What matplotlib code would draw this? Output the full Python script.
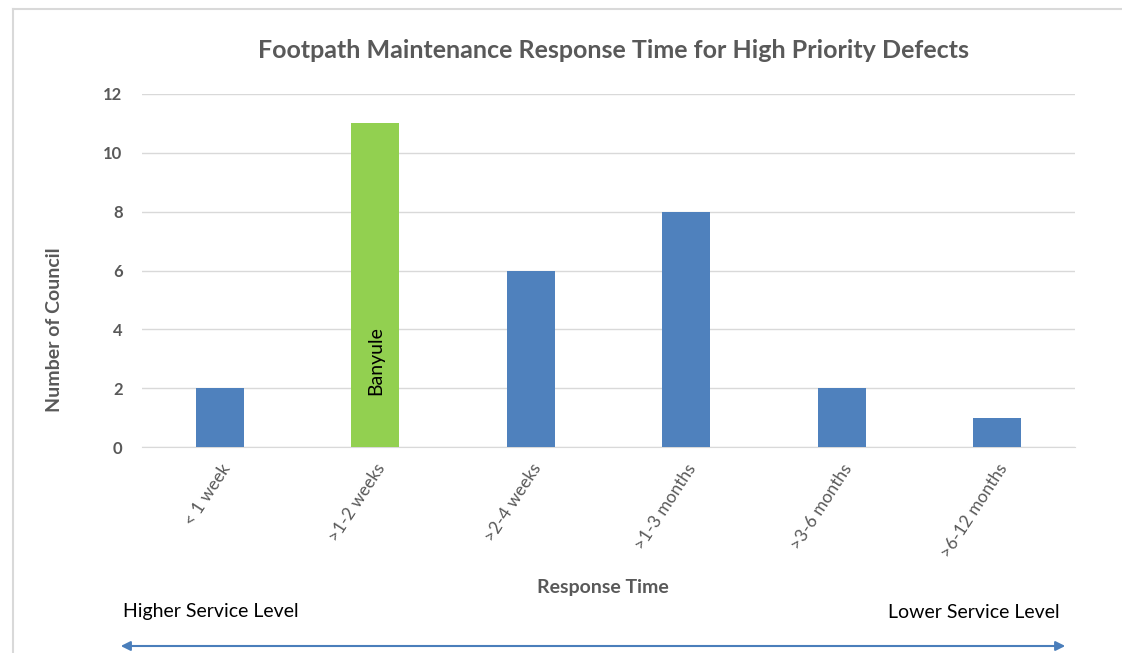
import matplotlib
matplotlib.use("Agg")
import matplotlib.pyplot as plt
from matplotlib.patches import FancyArrowPatch
from matplotlib.lines import Line2D

categories = ["< 1 week", ">1-2 weeks", ">2-4 weeks", ">1-3 months", ">3-6 months", ">6-12 months"]
values = [2, 11, 6, 8, 2, 1]
highlight = ">1-2 weeks"
highlight_label = "Banyule"
yticks = [0, 2, 4, 6, 8, 10, 12]

plt.rcParams['font.family'] = ['Lato', 'DejaVu Sans']
W, H = 1122, 653
fig = plt.figure(figsize=(W/100, H/100), dpi=100)

ax = fig.add_axes([142/W, 1-447/H, (1075-142)/W, (447-94)/H])
x = list(range(len(categories)))
colors = ["#92d050" if c == highlight else "#4f81bd" for c in categories]
bars = ax.bar(x, values, width=0.31, color=colors, zorder=3)
ax.set_xlim(-0.5, len(categories)-0.5)
ax.set_ylim(0, 12)
ax.set_yticks(yticks)
ax.set_yticklabels([str(t) for t in yticks], fontsize=12, fontweight='bold', color='#595959')
ax.grid(axis='y', color='#d9d9d9', linewidth=1, zorder=0)
for s in ['top', 'right', 'left']:
    ax.spines[s].set_visible(False)
ax.spines['bottom'].set_color('#d9d9d9')
ax.tick_params(axis='both', length=0)
ax.tick_params(axis='y', pad=14)
ax.set_xticks(x)
ax.set_xticklabels(categories, rotation=57, ha='right', rotation_mode='anchor',
                   fontsize=12.5, color='#595959')
ax.tick_params(axis='x', pad=10)
for lbl in ax.get_xticklabels():
    lbl.set_x(lbl.get_position()[0])

hi = categories.index(highlight)
ax.text(hi, 2.95, highlight_label, rotation=90, ha='center', va='center', fontsize=14, color='black', zorder=4)

fig.text(614/W, 1-50/H, "Footpath Maintenance Response Time for High Priority Defects",
         ha='center', va='center', fontsize=18, fontweight='bold', color='#595959')
fig.text(603/W, 1-587/H, "Response Time", ha='center', va='center', fontsize=14,
         fontweight='bold', color='#595959')
fig.text(55/W, 1-330/H, "Number of Council", ha='center', va='center', rotation=90,
         fontsize=14, fontweight='bold', color='#595959')
fig.text(123/W, 1-612/H, "Higher Service Level", ha='left', va='center', fontsize=14, color='black')
fig.text(1060/W, 1-612/H, "Lower Service Level", ha='right', va='center', fontsize=14, color='black')

arrow = FancyArrowPatch((118/W, 1-646/H), (1068/W, 1-646/H), transform=fig.transFigure,
                        arrowstyle='<|-|>', mutation_scale=14, color='#4a7ebb', linewidth=1.5)
fig.add_artist(arrow)

fig.add_artist(Line2D([13/W, 1], [1-9/H, 1-9/H], transform=fig.transFigure, color='#d9d9d9', linewidth=1.5))
fig.add_artist(Line2D([13/W, 13/W], [0, 1-9/H], transform=fig.transFigure, color='#d9d9d9', linewidth=1.5))

fig.savefig("out.png", dpi=100)
